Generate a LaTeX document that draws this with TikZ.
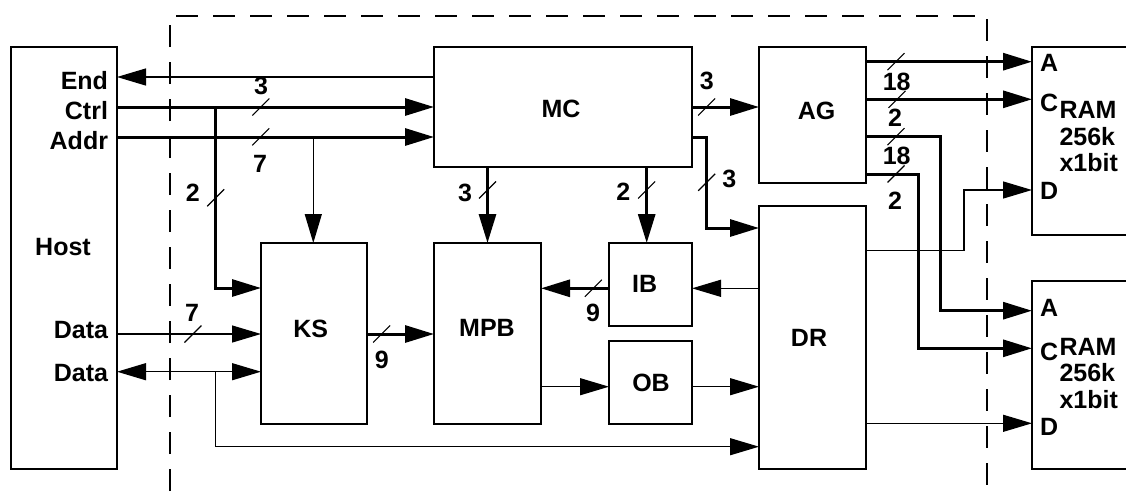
\documentclass[tikz,border=0pt]{standalone}
\usepackage{fontspec}
\setmainfont{Liberation Sans}
\usetikzlibrary{arrows.meta}
\begin{document}
\begin{tikzpicture}[x=1pt,y=-1pt,
  every node/.style={font=\fontsize{25}{27}\selectfont\bfseries, inner sep=0pt, outer sep=0pt},
  blk/.style={draw, line width=1.3pt},
  boxline/.style={line width=1.3pt},
  thinw/.style={line width=1.3pt},
  thickw/.style={line width=3pt},
  arr/.style={-{Triangle[length=29pt,width=17pt]}},
  barr/.style={{Triangle[length=29pt,width=17pt]}-{Triangle[length=29pt,width=17pt]}},
  busmark/.style={line width=1.1pt},
  dashline/.style={line width=1.3pt, dash pattern=on 22pt off 15pt},
  lbl/.style={anchor=base},
  rlbl/.style={anchor=base east},
  llbl/.style={anchor=base west}]
\useasboundingbox (0,0) rectangle (1126,491);

% dashed enclosure
\draw[dashline] (170,491) -- (170,16) -- (987,16) -- (987,491);

% blocks
\node[blk, minimum width=106pt, minimum height=422pt] (host) at (64,258) {};
\node[blk, minimum width=258pt, minimum height=120pt] (mc) at (563,107) {};
\node[blk, minimum width=107pt, minimum height=136pt] (ag) at (812.5,115) {};
\node[blk, minimum width=107pt, minimum height=263pt] (dr) at (812.5,337.5) {};
\node[blk, minimum width=106pt, minimum height=181pt] (ks) at (314,333.5) {};
\node[blk, minimum width=107pt, minimum height=181pt] (mpb) at (487.5,333.5) {};
\node[blk, minimum width=83pt, minimum height=83pt] (ib) at (650.5,284.5) {};
\node[blk, minimum width=83pt, minimum height=83pt] (ob) at (650.5,382.5) {};
\node[minimum width=94pt, minimum height=188pt] (ram1) at (1079,141) {};
\node[minimum width=94pt, minimum height=188pt] (ram2) at (1079,375) {};
\draw[boxline] (ram1.north east) -- (ram1.north west) -- (ram1.south west) -- (ram1.south east);
\draw[boxline] (ram2.north east) -- (ram2.north west) -- (ram2.south west) -- (ram2.south east);

% block texts
\node[lbl] (tHost) at (63,255) {Host};
\node[rlbl] (tEnd) at (108,89) {End};
\node[rlbl] (tCtrl) at (108,119) {Ctrl};
\node[rlbl] (tAddr) at (108,149) {Addr};
\node[rlbl] (tData1) at (108,338) {Data};
\node[rlbl] (tData2) at (108,381.5) {Data};
\node[lbl] (tMC) at (561,117) {MC};
\node[lbl] (tAG) at (816.5,119) {AG};
\node[lbl] (tDR) at (809,346) {DR};
\node[lbl] (tKS) at (310.7,337.7) {KS};
\node[lbl] (tMPB) at (487,336) {MPB};
\node[lbl] (tIB) at (644.7,292.7) {IB};
\node[lbl] (tOB) at (651,391) {OB};
% RAM 1
\node[llbl] (r1A) at (1040,71.7) {A};
\node[llbl] (r1C) at (1040,111.7) {C};
\node[llbl] (r1R) at (1059.5,118.3) {RAM};
\node[llbl] (r1S) at (1059.5,145) {256k};
\node[llbl] (r1X) at (1059.5,171.7) {x1bit};
\node[llbl] (r1D) at (1040,199.3) {D};
% RAM 2
\node[llbl] (r2A) at (1040,316) {A};
\node[llbl] (r2C) at (1040,360.7) {C};
\node[llbl] (r2R) at (1059.5,355) {RAM};
\node[llbl] (r2S) at (1059.5,381.7) {256k};
\node[llbl] (r2X) at (1059.5,408.3) {x1bit};
\node[llbl] (r2D) at (1040,435) {D};

% junctions
\coordinate (jctrl) at (215.7,107);
\coordinate (jaddr) at (313.3,137);
\coordinate (jdata) at (215.7,371.7);

% host <-> MC
\draw[thinw, arr] (mc.west |- 0,77) -- (host.east |- 0,77);
\draw[thickw, arr] (host.east |- 0,107) -- (mc.west |- 0,107);
\draw[thickw, arr] (host.east |- 0,137) -- (mc.west |- 0,137);
\draw[thickw, arr] (jctrl) |- (ks.west |- 0,288);
\draw[thinw, arr] (jaddr) -- (jaddr |- ks.north);

% MC outputs
\draw[thickw, arr] (mc.east |- 0,107) -- (ag.west |- 0,107);
\draw[thickw, arr] (mc.east |- 0,137) -- (706.7,137) -- (706.7,228) -- (dr.west |- 0,228);
\draw[thickw, arr] (mpb.north |- mc.south) -- (mpb.north);
\draw[thickw, arr] (mc.south -| 646.7,0) -- (ib.north -| 646.7,0);

% AG outputs
\draw[thickw, arr] (ag.east |- 0,61.7) -- (ram1.west |- 0,61.7);
\draw[thickw, arr] (ag.east |- 0,99.3) -- (ram1.west |- 0,99.3);
\draw[thickw, arr] (ag.east |- 0,136.7) -- (940.7,136.7) -- (940.7,310.7) -- (ram2.west |- 0,310.7);
\draw[thickw, arr] (ag.east |- 0,174) -- (918.3,174) -- (918.3,348.3) -- (ram2.west |- 0,348.3);

% DR data
\draw[thinw, arr] (dr.east |- 0,250.7) -- (964,250.7) -- (964,190) -- (ram1.west |- 0,190);
\draw[thinw, arr] (dr.east |- 0,423.3) -- (ram2.west |- 0,423.3);
\draw[thinw, arr] (dr.west |- 0,288.3) -- (ib.east |- 0,288.3);
\draw[thickw, arr] (ib.west |- 0,288.3) -- (mpb.east |- 0,288.3);
\draw[thinw, arr] (mpb.east |- 0,386.7) -- (ob.west |- 0,386.7);
\draw[thinw, arr] (ob.east |- 0,386.7) -- (dr.west |- 0,386.7);
\draw[thickw, arr] (ks.east |- 0,334) -- (mpb.west |- 0,334);

% host data
\draw[thinw, arr] (host.east |- 0,334) -- (ks.west |- 0,334);
\draw[thinw, barr] (host.east |- 0,371.7) -- (ks.west |- 0,371.7);
\draw[thinw, arr] (jdata) |- (dr.west |- 0,446.7);

% bus width marks
\foreach \p in {(260.8,107),(260.8,136.8),(215.7,197.8),(706.7,107),(706.7,182.3),
  (487.5,190),(646.7,190),(896,61.7),(897,99.3),(896,136.7),(896,174),
  (193,334),(381.7,334),(593.3,288.3)}
  \draw[busmark] \p +(-8.5,8.5) -- +(8.5,-8.5);

% bus width labels
\node[lbl] (n1) at (261,94) {3};
\node[lbl] (n2) at (260,172) {7};
\node[lbl] (n3) at (192.7,201.7) {2};
\node[lbl] (n4) at (706.7,89) {3};
\node[lbl] (n5) at (729.3,187.3) {3};
\node[lbl] (n6) at (465,201) {3};
\node[lbl] (n7) at (623.3,200) {2};
\node[lbl] (n8) at (896.7,90) {18};
\node[lbl] (n9) at (895,126) {2};
\node[lbl] (n10) at (896.7,164.3) {18};
\node[lbl] (n11) at (895,209.3) {2};
\node[lbl] (n12) at (192,321) {7};
\node[lbl] (n13) at (381.7,368.3) {9};
\node[lbl] (n14) at (593,321.7) {9};
\end{tikzpicture}
\end{document}
